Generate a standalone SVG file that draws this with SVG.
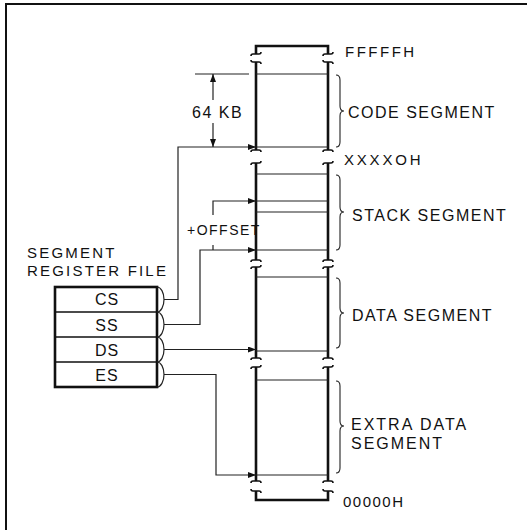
<svg xmlns="http://www.w3.org/2000/svg" width="530" height="532" viewBox="0 0 530 532">
<style>
text{font-family:"Liberation Sans",Arial,sans-serif;fill:#111;}
.lbl{font-size:16px;letter-spacing:1.5px;}
.addr{font-size:15px;letter-spacing:2.5px;}
.col{fill:none;stroke:#111;stroke-width:2.6;}
.brk{fill:none;stroke:#111;stroke-width:1.6;}
.thin{fill:none;stroke:#222;stroke-width:1.2;}
.brace{fill:none;stroke:#222;stroke-width:1.1;}
.wire{fill:none;stroke:#222;stroke-width:1.2;}
</style>
<defs>
<marker id="ah" markerWidth="8" markerHeight="6" refX="8" refY="3" orient="auto-start-reverse" markerUnits="userSpaceOnUse">
<path d="M0,0 L8,3 L0,6 z" fill="#111"/>
</marker>
</defs>
<rect width="530" height="532" fill="#fff"/>
<g id="frame">
<path d="M6,530 V4 H527" fill="none" stroke="#111" stroke-width="2"/>
</g>

<g id="top-cap">
<path class="col" d="M256,54 V46 H328 V54"/>
<path class="brk" d="M251,56 Q251,54 253,54 H259 Q261,54 261,52 M323,56 Q323,54 325,54 H331 Q333,54 333,52"/>
<text class="addr" x="345" y="57">FFFFFH</text>
</g>

<g id="code-segment">
<path class="brk" d="M251,60 Q251,62 253,62 H259 Q261,62 261,64 M323,60 Q323,62 325,62 H331 Q333,62 333,64"/>
<path class="col" d="M256,62 V150 M328,62 V150"/>
<path class="brk" d="M251,152 Q251,150 253,150 H259 Q261,150 261,152 M323,152 Q323,150 325,150 H331 Q333,150 333,152"/>
<path class="thin" d="M256,74 H328 M256,147 H328"/>
<path class="brace" d="M336,75 Q340,75 340,80 V106 Q340,111 344,111 Q340,111 340,116 V142 Q340,147 336,147"/>
<text class="lbl" x="348" y="118">CODE SEGMENT</text>
<text class="addr" x="344" y="165" style="letter-spacing:2.8px">XXXXOH</text>
</g>

<g id="stack-segment">
<path class="brk" d="M251,165 Q251,163 253,163 H259 Q261,163 261,161 M323,165 Q323,163 325,163 H331 Q333,163 333,161"/>
<path class="col" d="M256,163 V260 M328,163 V260"/>
<path class="brk" d="M251,262 Q251,260 253,260 H259 Q261,260 261,262 M323,262 Q323,260 325,260 H331 Q333,260 333,262"/>
<path class="thin" d="M256,174 H328 M256,201 H328 M256,212 H328 M256,250 H328"/>
<path class="brace" d="M336,175 Q340,175 340,180 V207 Q340,212 344,212 Q340,212 340,217 V245 Q340,250 336,250"/>
<text class="lbl" x="352" y="221">STACK SEGMENT</text>
</g>

<g id="data-segment">
<path class="brk" d="M251,269 Q251,267 253,267 H259 Q261,267 261,265 M323,269 Q323,267 325,267 H331 Q333,267 333,265"/>
<path class="col" d="M256,267 V358 M328,267 V358"/>
<path class="brk" d="M251,360 Q251,358 253,358 H259 Q261,358 261,360 M323,360 Q323,358 325,358 H331 Q333,358 333,360"/>
<path class="thin" d="M256,277 H328 M256,351 H328"/>
<path class="brace" d="M336,278 Q340,278 340,283 V308 Q340,313 344,313 Q340,313 340,318 V343 Q340,348 336,348"/>
<text class="lbl" x="352" y="321">DATA SEGMENT</text>
</g>

<g id="extra-segment">
<path class="brk" d="M251,369 Q251,367 253,367 H259 Q261,367 261,365 M323,369 Q323,367 325,367 H331 Q333,367 333,365"/>
<path class="col" d="M256,367 V481 M328,367 V481"/>
<path class="brk" d="M251,483 Q251,481 253,481 H259 Q261,481 261,483 M323,483 Q323,481 325,481 H331 Q333,481 333,483"/>
<path class="thin" d="M256,380 H328 M256,475 H328"/>
<path class="brace" d="M336,381 Q340,381 340,386 V421 Q340,426 344,426 Q340,426 340,431 V468 Q340,473 336,473"/>
<text class="lbl" x="351" y="430" style="letter-spacing:2px">EXTRA DATA</text>
<text class="lbl" x="351" y="449" style="letter-spacing:2px">SEGMENT</text>
</g>

<g id="bottom-cap">
<path class="brk" d="M251,489 Q251,491 253,491 H259 Q261,491 261,493 M323,489 Q323,491 325,491 H331 Q333,491 333,493"/>
<path class="col" d="M256,491 V500 H328 V491"/>
<text class="addr" x="343" y="507" style="letter-spacing:1.5px">00000H</text>
</g>

<g id="register-file">
<text class="lbl" x="27" y="258" style="font-size:15px;letter-spacing:2.2px">SEGMENT</text>
<text class="lbl" x="27" y="276" style="font-size:15px;letter-spacing:2.2px">REGISTER FILE</text>
<rect x="55" y="287" width="102" height="100" fill="none" stroke="#111" stroke-width="2.6"/>
<path d="M55,312 H157 M55,337 H157 M55,362 H157" stroke="#111" stroke-width="1.6" fill="none"/>
<path class="thin" d="M157,287 A7,12.5 0 0 1 157,312 A7,12.5 0 0 1 157,337 A7,12.5 0 0 1 157,362 A7,12.5 0 0 1 157,387"/>
<g text-anchor="middle">
<text class="lbl" x="107" y="305" style="letter-spacing:1px">CS</text>
<text class="lbl" x="107" y="331" style="letter-spacing:1px">SS</text>
<text class="lbl" x="107" y="356" style="letter-spacing:1px">DS</text>
<text class="lbl" x="107" y="381" style="letter-spacing:1px">ES</text>
</g>
</g>

<g id="connectors">
<path class="wire" d="M164,299.5 H178 V147 H256" marker-end="url(#ah)"/>
<path class="wire" d="M164,324.5 H200 V250 H256" marker-end="url(#ah)"/>
<path class="wire" d="M164,349.5 H256" marker-end="url(#ah)"/>
<path class="wire" d="M164,374.5 H216 V475 H256" marker-end="url(#ah)"/>
<path class="wire" d="M213,215 V201 H256" marker-end="url(#ah)"/>
<path class="wire" d="M213,245 V250"/>
<path class="wire" d="M195,74 H249"/>
<path class="wire" d="M213,100 V74" marker-end="url(#ah)"/>
<path class="wire" d="M213,123 V147" marker-end="url(#ah)"/>
</g>
<g id="dim-labels">
<text class="lbl" x="192" y="118">64 KB</text>
<text class="lbl" x="187" y="235" style="font-size:14px;letter-spacing:1.5px">+OFFSET</text>
</g>
</svg>
